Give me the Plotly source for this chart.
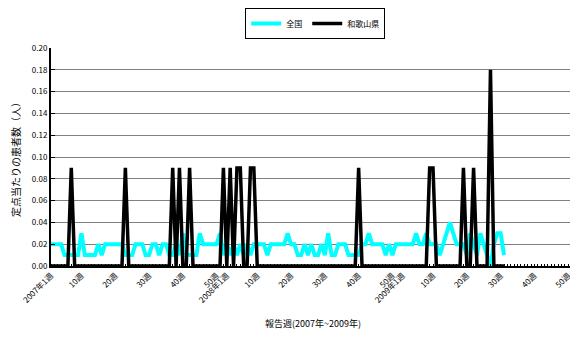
import plotly.graph_objects as go

# Weekly index: 2007 wk1 = 0 ... (52 weeks per year)
national = [
    0.02, 0.02, 0.02, 0.02, 0.01, 0.01, 0.01, 0.01, 0.01, 0.03,
    0.01, 0.01, 0.01, 0.01, 0.02, 0.01, 0.02, 0.02, 0.02, 0.02,
    0.02, 0.02, 0.01, 0.01, 0.01, 0.02, 0.02, 0.02, 0.01, 0.01,
    0.02, 0.02, 0.01, 0.02, 0.02, 0.01, 0.01, 0.02, 0.01, 0.03,
    0.01, 0.01, 0.01, 0.01, 0.03, 0.02, 0.02, 0.02, 0.02, 0.02,
    0.03, 0.01, 0.02, 0.01, 0.02, 0.01, 0.02, 0.01, 0.02, 0.01,
    0.02, 0.02, 0.02, 0.02, 0.01, 0.02, 0.02, 0.02, 0.02, 0.02,
    0.03, 0.02, 0.02, 0.01, 0.01, 0.02, 0.01, 0.02, 0.01, 0.01,
    0.02, 0.01, 0.03, 0.01, 0.01, 0.02, 0.02, 0.02, 0.01, 0.01,
    0.01, 0.01, 0.02, 0.02, 0.03, 0.02, 0.02, 0.02, 0.02, 0.01,
    0.02, 0.01, 0.02, 0.02, 0.02, 0.02, 0.02, 0.02, 0.03, 0.02,
    0.02, 0.03, 0.02, 0.02, 0.02, 0.01, 0.02, 0.03, 0.04, 0.03,
    0.02, 0.02, 0.02, 0.01, 0.03, 0.02, 0.01, 0.03, 0.02, 0.01,
    0.00, 0.02, 0.03, 0.03, 0.01,
]

wakayama = [0.0] * len(national)
wakayama_peaks = {6: 0.09, 22: 0.09, 36: 0.09, 38: 0.09, 41: 0.09, 51: 0.09,
                  53: 0.09, 55: 0.09, 56: 0.09, 59: 0.09, 60: 0.09, 91: 0.09,
                  112: 0.09, 113: 0.09, 122: 0.09, 125: 0.09, 130: 0.18}
for k, v in wakayama_peaks.items():
    wakayama[k] = v

weeks = list(range(len(national)))

tick_vals = [0, 9, 19, 29, 39, 49, 52, 61, 71, 81, 91, 101, 104, 113, 123, 133, 143, 153]
tick_text = ["2007年1週", "10週", "20週", "30週", "40週", "50週",
             "2008年1週", "10週", "20週", "30週", "40週", "50週",
             "2009年1週", "10週", "20週", "30週", "40週", "50週"]

FONT = "Noto Sans CJK JP"

fig = go.Figure()
fig.add_trace(go.Scatter(x=weeks, y=national, mode="lines", name="全国",
                         line=dict(color="#00FFFF", width=4)))
fig.add_trace(go.Scatter(x=weeks, y=wakayama, mode="lines", name="和歌山県",
                         line=dict(color="#000000", width=3.5)))

# page body has an 8px margin, so the figure is sized/offset to compensate
fig.update_layout(
    width=570, height=332,
    margin=dict(l=43, r=3, t=40, b=74),
    paper_bgcolor="white", plot_bgcolor="white",
    font=dict(family=FONT, size=9, color="black"),
    showlegend=True,
    legend=dict(orientation="h", x=0.539, xanchor="center", xref="container",
                y=1.0, yanchor="top", yref="container",
                bordercolor="black", borderwidth=1,
                font=dict(size=8), bgcolor="white", itemwidth=30,
                tracegroupgap=0),
    xaxis=dict(range=[0, 155], tickvals=tick_vals, ticktext=tick_text,
               tickangle=-45, showgrid=False, zeroline=False, automargin=False,
               showline=True, linecolor="black", linewidth=2,
               ticks="", tickfont=dict(size=8), layer="above traces",
               minor=dict(dtick=1, tick0=0, ticks="inside", ticklen=2,
                          tickcolor="black", tickwidth=1),
               title=dict(text="報告週(2007年~2009年)", font=dict(size=9), standoff=17)),
    yaxis=dict(range=[0, 0.2], dtick=0.02, tickformat=".2f", automargin=False,
               showgrid=True, gridcolor="#808080", gridwidth=1,
               zeroline=False, showline=True, linecolor="black", linewidth=2,
               ticks="inside", ticklen=4, tickcolor="black",
               tickfont=dict(size=8),
               title=dict(text="定点当たりの患者数（人）", font=dict(size=10), standoff=21)),
)

fig.write_html("out.html")
